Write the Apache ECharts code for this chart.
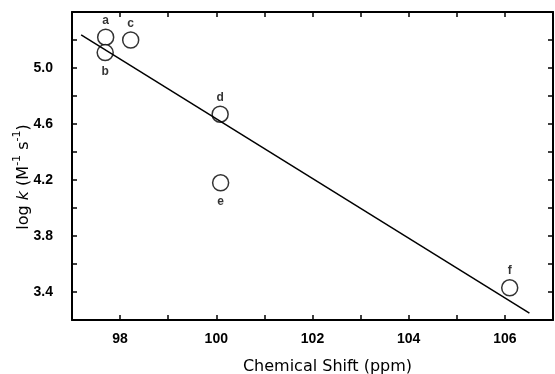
<!DOCTYPE html>
<html>
<head>
<meta charset="utf-8">
<script src="https://cdn.jsdelivr.net/npm/echarts@6/dist/echarts.min.js"></script>
<style>html,body{margin:0;padding:0;background:#fff;}#c{width:555px;height:374px;}</style>
</head>
<body>
<div id="c"></div>
<script>
const pointLabels = ['a', 'b', 'c', 'd', 'e', 'f'];
const shiftPpm = [97.70, 97.69, 98.22, 100.08, 100.09, 106.10];
const logK = [5.22, 5.11, 5.20, 4.67, 4.18, 3.43];
const labelPos = ['top', 'bottom', 'top', 'top', 'bottom', 'top'];
const fitX = [97.19, 106.51];
const fitY = [5.237, 3.249];
const xTickLabels = [98, 100, 102, 104, 106];
const yTickLabels = [3.4, 3.8, 4.2, 4.6, 5.0];

const FONT = 'Liberation Sans, Arial, sans-serif';
const NFONT = 'DejaVu Sans, sans-serif';
const axisLine = {show: true, onZero: false, lineStyle: {color: '#000', width: 2}};
const tick = {show: true, inside: true, length: 5, lineStyle: {color: '#000', width: 1.5}};

const chart = echarts.init(document.getElementById('c'));
chart.setOption({
  animation: false,
  backgroundColor: '#fff',
  grid: {left: 72, right: 2, top: 12, bottom: 54, containLabel: false, outerBoundsMode: 'none'},
  xAxis: [
    {type: 'value', position: 'bottom', min: 97, max: 107, interval: 1,
     axisLine: axisLine, axisTick: tick, splitLine: {show: false},
     axisLabel: {customValues: xTickLabels, margin: 12, color: '#000', fontSize: 14, fontWeight: 'bold', fontFamily: FONT},
     name: 'Chemical Shift (ppm)', nameLocation: 'middle', nameGap: 39, nameMoveOverlap: false,
     nameTextStyle: {color: '#000', fontSize: 16, fontFamily: NFONT, padding: [0, 0, 0, 30]}},
    {type: 'value', position: 'top', min: 97, max: 107, interval: 1,
     axisLine: axisLine, axisTick: tick, splitLine: {show: false}, axisLabel: {show: false}}
  ],
  yAxis: [
    {type: 'value', position: 'left', min: 3.2, max: 5.4, interval: 0.2,
     axisLine: axisLine, axisTick: tick, splitLine: {show: false},
     axisLabel: {customValues: yTickLabels, margin: 19, color: '#000', fontSize: 14, fontWeight: 'bold', fontFamily: FONT,
       formatter: v => Number(v).toFixed(1)},
     name: '{n|log }{i|k}{n| (M}{s|-1}{n| s}{s|-1}{n|)}', nameLocation: 'middle', nameGap: 40, nameMoveOverlap: false,
     nameTextStyle: {color: '#000', fontSize: 16, fontFamily: NFONT, padding: [0, 22, 0, 0],
       rich: {
         n: {fontSize: 16, fontFamily: NFONT, color: '#000', lineHeight: 20, verticalAlign: 'bottom'},
         i: {fontSize: 16, fontStyle: 'italic', fontFamily: NFONT, color: '#000', lineHeight: 20, verticalAlign: 'bottom'},
         s: {fontSize: 11, fontFamily: NFONT, color: '#000', lineHeight: 10, verticalAlign: 'top'}
       }}},
    {type: 'value', position: 'right', min: 3.2, max: 5.4, interval: 0.2,
     axisLine: axisLine, axisTick: tick, splitLine: {show: false}, axisLabel: {show: false}}
  ],
  series: [
    {type: 'line', xAxisIndex: 0, yAxisIndex: 0, symbol: 'none', silent: true,
     lineStyle: {color: '#000', width: 1.5},
     data: fitX.map((x, i) => [x, fitY[i]])},
    {type: 'scatter', xAxisIndex: 0, yAxisIndex: 0, symbol: 'circle', symbolSize: 16,
     itemStyle: {color: '#fff', borderColor: '#000', borderWidth: 1.5},
     data: shiftPpm.map((x, i) => ({
       value: [x, logK[i]],
       label: {show: true, position: labelPos[i], distance: labelPos[i] === 'top' ? 2 : 4,
         formatter: pointLabels[i], color: '#000', fontSize: 12, fontWeight: 'bold', fontFamily: FONT}
     }))}
  ]
});
</script>
</body>
</html>
